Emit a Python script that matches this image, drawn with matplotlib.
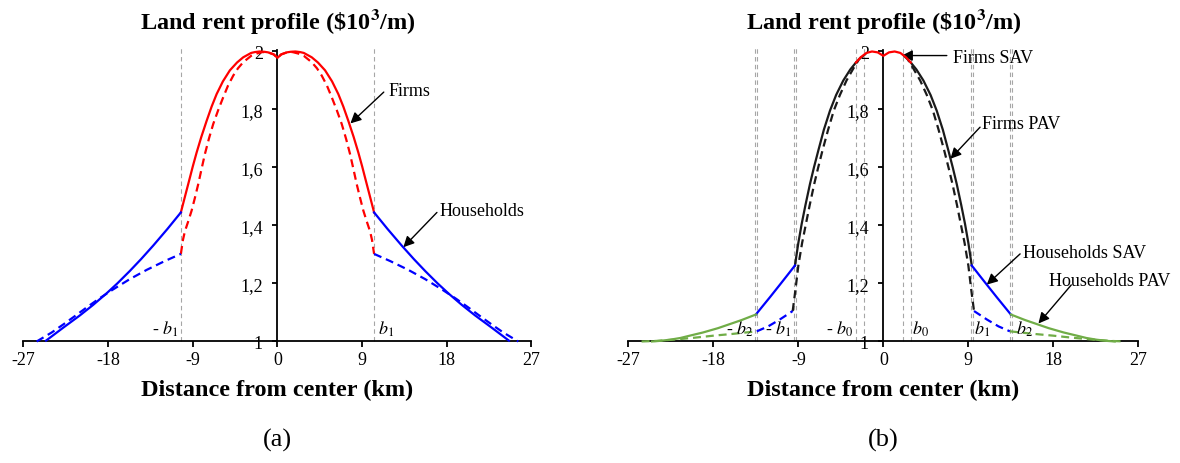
import matplotlib
matplotlib.use('Agg')
import matplotlib.pyplot as plt

plt.rcParams['font.family'] = ['Liberation Serif', 'DejaVu Serif']
plt.rcParams['mathtext.fontset'] = 'stix'

FONT_SIZE  = 13
TITLE_SIZE = 17.5
RED   = '#ff0000'
BLUE  = '#0000ff'
GREEN = '#70ad47'
BLACK = '#1a1a1a'
GRID  = '#a6a6a6'

X_TICKS       = [-27, -18, -9, 0, 9, 18, 27]
Y_TICKS       = [1.0, 1.2, 1.4, 1.6, 1.8, 2.0]
Y_TICK_LABELS = ['1', '1,2', '1,4', '1,6', '1,8', '2']
TITLE  = 'Land rent profile (\\$10$^{\\mathbf{3}}$/m)'
XLABEL = 'Distance from center (km)'

# ---- panel (a) ----
a_firms_x = [-10.27, -9.84, -9.31, -9.0, -8.6, -8.1, -7.54, -7.0, -6.47, -5.8, -5.06, -4.3, -3.64, -2.8,
             -2.4, -1.9, -1.4, -1.0, -0.4, 0,
             0.4, 1.0, 1.4, 1.9, 2.4, 2.8, 3.64, 4.3, 5.06, 5.8, 6.47, 7.0, 7.54, 8.1, 8.6, 9.0, 9.31,
             9.84, 10.27]
a_firms_y = [1.445, 1.499, 1.565, 1.604, 1.651, 1.705, 1.76, 1.81, 1.853, 1.897, 1.935, 1.962, 1.98, 1.995,
             1.998, 2.0, 1.999, 1.997, 1.99, 1.978,
             1.99, 1.997, 1.999, 2.0, 1.998, 1.995, 1.98, 1.962, 1.935, 1.897, 1.853, 1.81, 1.76, 1.705,
             1.651, 1.604, 1.565, 1.499, 1.445]
a_firms_pav_x = [-10.27, -10.05, -9.84, -9.5, -9.13, -8.78, -8.42, -8.07, -7.71, -7.3, -6.83, -6.3, -5.77,
                 -5.25, -4.7, -4.2, -3.64, -2.8, -2.2, -1.6, -1.0, -0.4, 0,
                 0.4, 1.0, 1.6, 2.2, 2.8, 3.64, 4.2, 4.7, 5.25, 5.77, 6.3, 6.83, 7.3, 7.71, 8.07, 8.42,
                 8.78, 9.13, 9.5, 9.84, 10.05, 10.27]
a_firms_pav_y = [1.302, 1.35, 1.38, 1.413, 1.451, 1.495, 1.543, 1.595, 1.647, 1.698, 1.75, 1.798, 1.842,
                 1.883, 1.917, 1.942, 1.963, 1.985, 1.993, 1.998, 1.997, 1.99, 1.978,
                 1.99, 1.997, 1.998, 1.993, 1.985, 1.963, 1.942, 1.917, 1.883, 1.842, 1.798, 1.75, 1.698,
                 1.647, 1.595, 1.543, 1.495, 1.451, 1.413, 1.38, 1.35, 1.302]
a_hh_right_x = [10.27, 11.7, 13.2, 14.5, 15.7, 17.0, 18.2, 19.6, 21.0, 22.8, 24.6]
a_hh_right_y = [1.445, 1.388, 1.331, 1.284, 1.243, 1.201, 1.165, 1.126, 1.090, 1.047, 1.003]
a_hh_left_x  = [-24.6, -22.8, -21.0, -19.6, -18.2, -17.0, -15.7, -14.5, -13.2, -11.7, -10.27]
a_hh_left_y  = [1.003, 1.047, 1.090, 1.126, 1.165, 1.201, 1.243, 1.284, 1.331, 1.388, 1.445]
a_hh_pav_right_x = [10.27, 12.0, 13.9, 15.7, 17.5, 19.0, 20.3, 21.6, 22.8, 24.0, 25.6]
a_hh_pav_right_y = [1.302, 1.277, 1.247, 1.215, 1.179, 1.147, 1.117, 1.086, 1.058, 1.031, 1.0]
a_hh_pav_left_x  = [-25.6, -24.0, -22.8, -21.6, -20.3, -19.0, -17.5, -15.7, -13.9, -12.0, -10.27]
a_hh_pav_left_y  = [1.0, 1.031, 1.058, 1.086, 1.117, 1.147, 1.179, 1.215, 1.247, 1.277, 1.302]
a_bounds = [-10.3, 10.3]

# ---- panel (b) ----
b_firms_sav_x = [-2.9, -2.4, -1.8, -1.2, -0.6, 0, 0.6, 1.2, 1.8, 2.4, 2.9]
b_firms_sav_y = [1.962, 1.98, 1.995, 2.0, 1.997, 1.985, 1.997, 2.0, 1.995, 1.98, 1.962]
b_firms_right_x = [2.9, 3.5, 4.24, 5.0, 5.65, 6.3, 6.89, 7.35, 7.77, 8.25, 8.65, 9.0, 9.36]
b_firms_right_y = [1.962, 1.938, 1.9, 1.85, 1.796, 1.73, 1.658, 1.6, 1.543, 1.47, 1.405, 1.34, 1.262]
b_firms_left_x  = [-9.36, -9.0, -8.65, -8.25, -7.77, -7.35, -6.89, -6.3, -5.65, -5.0, -4.24, -3.5, -2.9]
b_firms_left_y  = [1.262, 1.34, 1.405, 1.47, 1.543, 1.6, 1.658, 1.73, 1.796, 1.85, 1.9, 1.938, 1.962]
b_firms_pav_right_x = [2.2, 2.6, 3.2, 3.9, 4.6, 5.25, 5.85, 6.45, 6.9, 7.32, 7.8, 8.2, 8.6, 9.0, 9.3, 9.6]
b_firms_pav_right_y = [1.985, 1.972, 1.94, 1.9, 1.85, 1.796, 1.73, 1.658, 1.6, 1.543, 1.47, 1.405, 1.34,
                       1.262, 1.18, 1.105]
b_firms_pav_left_x  = [-9.6, -9.3, -9.0, -8.6, -8.2, -7.8, -7.32, -6.9, -6.45, -5.85, -5.25, -4.6, -3.9,
                       -3.2, -2.6, -2.2]
b_firms_pav_left_y  = [1.105, 1.18, 1.262, 1.34, 1.405, 1.47, 1.543, 1.6, 1.658, 1.73, 1.796, 1.85, 1.9,
                       1.94, 1.972, 1.985]
b_hh_sav_right_x = [9.36, 10.2, 10.95, 12.0, 12.8, 13.5]
b_hh_sav_right_y = [1.262, 1.227, 1.196, 1.153, 1.121, 1.093]
b_hh_sav_left_x  = [-13.5, -12.8, -12.0, -10.95, -10.2, -9.36]
b_hh_sav_left_y  = [1.093, 1.121, 1.153, 1.196, 1.227, 1.262]
b_hh_sav_pav_right_x = [9.6, 11.0, 12.2, 13.4]
b_hh_sav_pav_right_y = [1.105, 1.075, 1.052, 1.035]
b_hh_sav_pav_left_x  = [-13.4, -12.2, -11.0, -9.6]
b_hh_sav_pav_left_y  = [1.035, 1.052, 1.075, 1.105]
b_hh_pav_right_x = [13.5, 15.0, 16.25, 17.5, 19.1, 20.5, 21.5, 22.6, 23.7, 24.5]
b_hh_pav_right_y = [1.093, 1.074, 1.06, 1.046, 1.031, 1.02, 1.012, 1.006, 1.002, 1.0]
b_hh_pav_left_x  = [-24.5, -23.7, -22.6, -21.5, -20.5, -19.1, -17.5, -16.25, -15.0, -13.5]
b_hh_pav_left_y  = [1.0, 1.002, 1.006, 1.012, 1.02, 1.031, 1.046, 1.06, 1.074, 1.093]
b_hh_pav_dash_right_x = [13.4, 16.0, 18.0, 20.0, 22.0, 24.0, 25.6]
b_hh_pav_dash_right_y = [1.035, 1.026, 1.02, 1.013, 1.007, 1.002, 1.0]
b_hh_pav_dash_left_x  = [-25.6, -24.0, -22.0, -20.0, -18.0, -16.0, -13.4]
b_hh_pav_dash_left_y  = [1.0, 1.002, 1.007, 1.013, 1.02, 1.026, 1.035]
b_bounds = [-13.6, -13.4, -9.5, -9.3, -2.9, -2.1, 2.1, 2.9, 9.3, 9.5, 13.4, 13.6]


def setup_axes(ax):
    ax.set_xlim(-27, 27)
    ax.set_ylim(1, 2.005)
    ax.patch.set_alpha(0)
    ax.spines['left'].set_position(('data', 0))
    ax.spines['right'].set_visible(False)
    ax.spines['top'].set_visible(False)
    for side in ('left', 'bottom'):
        ax.spines[side].set_linewidth(1.3)
        ax.spines[side].set_zorder(1)
    ax.set_xticks(X_TICKS)
    ax.set_xticklabels([str(t) for t in X_TICKS])
    ax.set_yticks(Y_TICKS)
    ax.set_yticklabels(Y_TICK_LABELS)
    ax.tick_params(axis='x', direction='out', length=4, width=1.3, pad=3, labelsize=FONT_SIZE)
    ax.tick_params(axis='y', direction='out', length=3.5, width=1.3, pad=7, labelsize=FONT_SIZE)


def vlines(ax, xs):
    for x in xs:
        ax.plot([x, x], [1, 2.02], color=GRID, lw=0.8, dashes=(4, 3), clip_on=False, zorder=0)


def curve(ax, x, y, color, dashed=False):
    if dashed:
        ax.plot(x, y, color=color, lw=1.6, dashes=(3.6, 2.2), clip_on=False, zorder=3)
    else:
        ax.plot(x, y, color=color, lw=1.6, clip_on=False, zorder=4)


def arrow(ax, tail, tip):
    ax.annotate('', xy=tip, xytext=tail,
                arrowprops=dict(arrowstyle='-|>', color='black', lw=1.0, mutation_scale=16,
                                shrinkA=0, shrinkB=0))


def b_label(ax, x, text, ha):
    ax.text(x, 1.045, text, ha=ha, va='center', fontsize=FONT_SIZE)


fig = plt.figure(figsize=(11.8, 4.64), dpi=100)
axA = fig.add_axes([0.0199, 0.2619, 0.4305, 0.6281])
axB = fig.add_axes([0.5325, 0.2619, 0.4322, 0.6281])

# panel (a)
setup_axes(axA)
vlines(axA, a_bounds)
curve(axA, a_firms_pav_x, a_firms_pav_y, RED, dashed=True)
curve(axA, a_firms_x, a_firms_y, RED)
curve(axA, a_hh_pav_right_x, a_hh_pav_right_y, BLUE, dashed=True)
curve(axA, a_hh_pav_left_x, a_hh_pav_left_y, BLUE, dashed=True)
curve(axA, a_hh_right_x, a_hh_right_y, BLUE)
curve(axA, a_hh_left_x, a_hh_left_y, BLUE)
axA.text(11.8, 1.865, 'Firms', ha='left', va='center', fontsize=FONT_SIZE)
arrow(axA, (11.3, 1.86), (7.75, 1.752))
axA.text(17.2, 1.451, 'Households', ha='left', va='center', fontsize=FONT_SIZE)
arrow(axA, (16.95, 1.445), (13.38, 1.325))
b_label(axA, -10.55, '- $b_1$', 'right')
b_label(axA, 10.7, '$b_1$', 'left')

# panel (b)
setup_axes(axB)
vlines(axB, b_bounds)
curve(axB, b_firms_pav_right_x, b_firms_pav_right_y, BLACK, dashed=True)
curve(axB, b_firms_pav_left_x, b_firms_pav_left_y, BLACK, dashed=True)
curve(axB, b_hh_sav_pav_right_x, b_hh_sav_pav_right_y, BLUE, dashed=True)
curve(axB, b_hh_sav_pav_left_x, b_hh_sav_pav_left_y, BLUE, dashed=True)
curve(axB, b_hh_pav_dash_right_x, b_hh_pav_dash_right_y, GREEN, dashed=True)
curve(axB, b_hh_pav_dash_left_x, b_hh_pav_dash_left_y, GREEN, dashed=True)
curve(axB, b_firms_right_x, b_firms_right_y, BLACK)
curve(axB, b_firms_left_x, b_firms_left_y, BLACK)
curve(axB, b_firms_sav_x, b_firms_sav_y, RED)
curve(axB, b_hh_sav_right_x, b_hh_sav_right_y, BLUE)
curve(axB, b_hh_sav_left_x, b_hh_sav_left_y, BLUE)
curve(axB, b_hh_pav_right_x, b_hh_pav_right_y, GREEN)
curve(axB, b_hh_pav_left_x, b_hh_pav_left_y, GREEN)
axB.text(7.42, 1.98, 'Firms SAV', ha='left', va='center', fontsize=FONT_SIZE)
arrow(axB, (6.72, 1.986), (1.95, 1.986))
axB.text(10.4, 1.75, 'Firms PAV', ha='left', va='center', fontsize=FONT_SIZE)
arrow(axB, (10.24, 1.739), (7.1, 1.63))
axB.text(14.8, 1.308, 'Households SAV', ha='left', va='center', fontsize=FONT_SIZE)
arrow(axB, (14.48, 1.302), (10.95, 1.196))
axB.text(17.5, 1.212, 'Households PAV', ha='left', va='center', fontsize=FONT_SIZE)
arrow(axB, (19.9, 1.195), (16.42, 1.062))
b_label(axB, -13.75, '- $b_2$', 'right')
b_label(axB, -9.7, '- $b_1$', 'right')
b_label(axB, -3.2, '- $b_0$', 'right')
b_label(axB, 3.0, '$b_0$', 'left')
b_label(axB, 9.55, '$b_1$', 'left')
b_label(axB, 14.0, '$b_2$', 'left')

for ax, tag in ((axA, '(a)'), (axB, '(b)')):
    xc = ax.get_position().x0 + ax.get_position().width / 2
    fig.text(xc, 1 - 22 / 464, TITLE, ha='center', va='center', fontsize=TITLE_SIZE,
             fontweight='bold')
    fig.text(xc, 1 - 390 / 464, XLABEL, ha='center', va='center', fontsize=TITLE_SIZE,
             fontweight='bold')
    fig.text(xc, 1 - 440 / 464, tag, ha='center', va='center', fontsize=19)

fig.savefig('out.png', dpi=100)
